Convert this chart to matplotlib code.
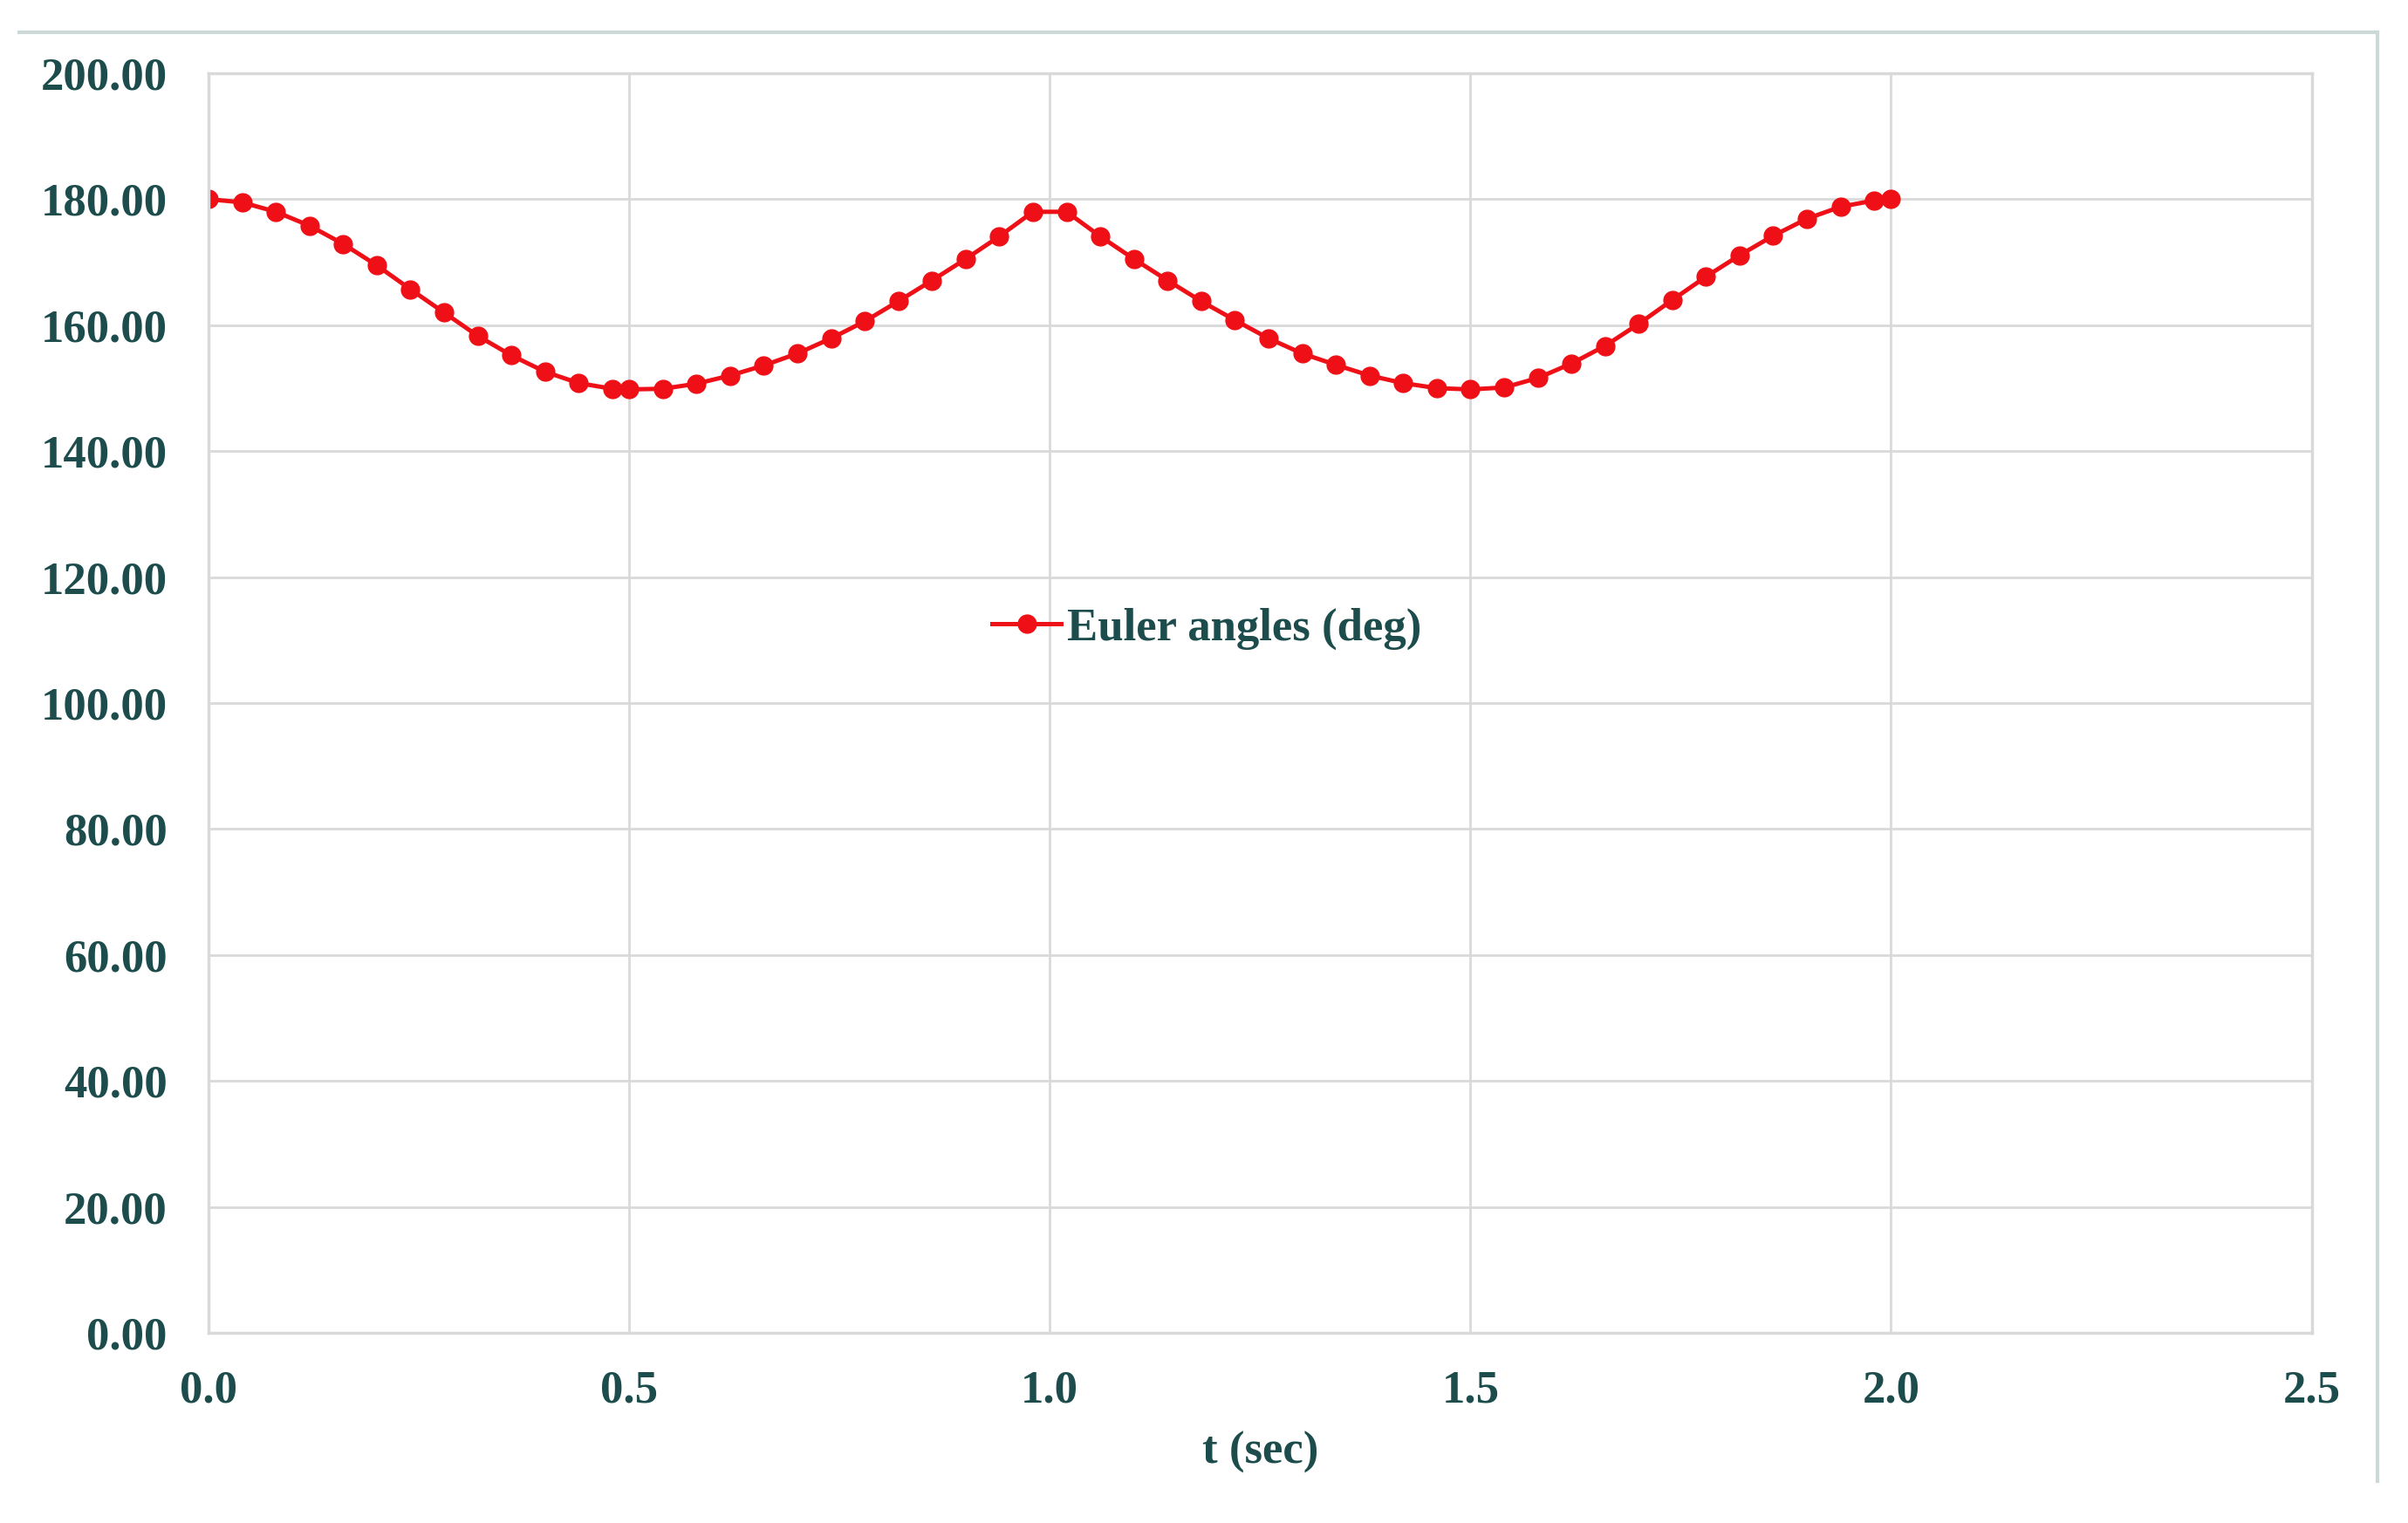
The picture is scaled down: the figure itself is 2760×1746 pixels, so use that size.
import matplotlib
matplotlib.use('Agg')
import matplotlib.pyplot as plt
from matplotlib.lines import Line2D

# time samples (s)
t = [0.00, 0.04, 0.08, 0.12, 0.16, 0.20, 0.24, 0.28, 0.32, 0.36, 0.40, 0.44, 0.48,
     0.50, 0.54, 0.58, 0.62, 0.66, 0.70, 0.74, 0.78, 0.82, 0.86, 0.90, 0.94, 0.98,
     1.02, 1.06, 1.10, 1.14, 1.18, 1.22, 1.26, 1.30, 1.34, 1.38, 1.42, 1.46, 1.50,
     1.54, 1.58, 1.62, 1.66, 1.70, 1.74, 1.78, 1.82, 1.86, 1.90, 1.94, 1.98, 2.00]

# Euler angle (deg)
euler = [180.0, 179.5, 178.0, 175.8, 172.9, 169.5, 165.7, 162.0, 158.3, 155.2, 152.6, 150.8, 149.9,
         149.8, 149.9, 150.7, 152.0, 153.6, 155.5, 157.9, 160.6, 163.8, 167.1, 170.5, 174.1, 178.0,
         178.0, 174.1, 170.5, 167.1, 163.8, 160.8, 157.9, 155.5, 153.7, 152.0, 150.8, 150.0, 149.8,
         150.1, 151.6, 153.9, 156.7, 160.2, 164.0, 167.7, 171.1, 174.2, 176.9, 178.8, 179.8, 180.0]

x_ticks = [0.0, 0.5, 1.0, 1.5, 2.0, 2.5]
y_ticks = [0, 20, 40, 60, 80, 100, 120, 140, 160, 180, 200]

text_color = '#1d4c4c'
grid_color = '#d9d9d9'
font = 'Liberation Serif'
fsize = 38

fig = plt.figure(figsize=(27.6, 17.46), dpi=100)
ax = fig.add_axes([0.0866, 0.1249, 0.8734, 0.8270])

ax.plot(t, euler, color='#ee1016', linewidth=3.6, marker='o', markersize=15,
        label='Euler angles (deg)')

ax.set_xlim(0, 2.5)
ax.set_ylim(0, 200)
ax.set_xticks(x_ticks)
ax.set_yticks(y_ticks)
ax.set_xticklabels(['%.1f' % v for v in x_ticks])
ax.set_yticklabels(['%.2f' % v for v in y_ticks])
ax.grid(True, color=grid_color, linewidth=2)
ax.set_axisbelow(True)
for s in ax.spines.values():
    s.set_color(grid_color)
    s.set_linewidth(2.5)

ax.tick_params(axis='both', length=0, labelsize=fsize, labelcolor=text_color)
ax.tick_params(axis='x', pad=31)
ax.tick_params(axis='y', pad=34)
for lab in ax.get_xticklabels() + ax.get_yticklabels():
    lab.set_fontfamily(font)
    lab.set_fontweight('bold')

ax.set_xlabel('t (sec)', fontsize=fsize, fontfamily=font, fontweight='bold',
              color=text_color, labelpad=16)

leg = ax.legend(loc='center left', bbox_to_anchor=(0.3726, 0.559), frameon=False,
                borderpad=0, borderaxespad=0, handlelength=1.5, handletextpad=0.12,
                prop={'family': font, 'weight': 'bold', 'size': fsize})
for txt in leg.get_texts():
    txt.set_color(text_color)

# outer chart frame (top and right edges visible)
frame_color = '#cdd8d8'
fig.add_artist(Line2D([22 / 2760, 2725 / 2760], [1 - 37 / 1746, 1 - 37 / 1746],
                      color=frame_color, linewidth=3, transform=fig.transFigure))
fig.add_artist(Line2D([2725 / 2760, 2725 / 2760], [1 - 37 / 1746, 1 - 1698 / 1746],
                      color=frame_color, linewidth=3, transform=fig.transFigure))

fig.savefig('out.png', dpi=100)
